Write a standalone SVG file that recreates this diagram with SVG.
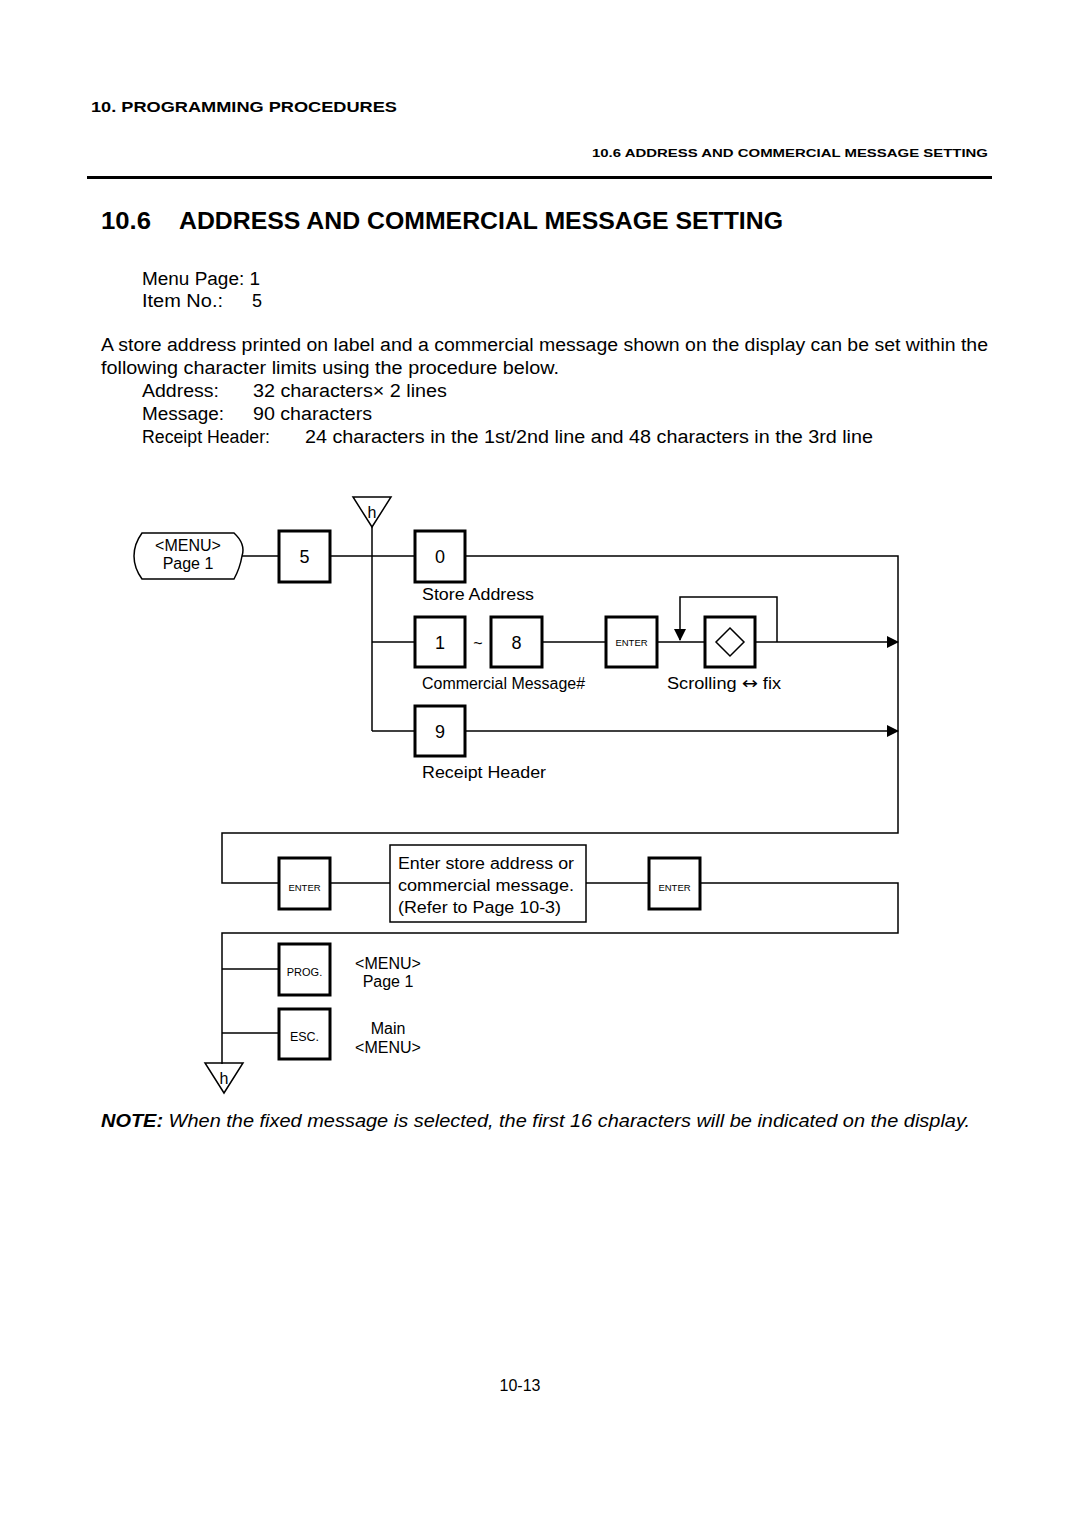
<svg xmlns="http://www.w3.org/2000/svg" width="1080" height="1528" viewBox="0 0 1080 1528">
<style>
text{font-family:"Liberation Sans",Arial,sans-serif;fill:#000}
.body{font-size:18px}
.lbl{font-size:16px}
.dig{font-size:18px;text-anchor:middle}
.key{fill:#fff;stroke:#000;stroke-width:3}
.ln{fill:none;stroke:#000;stroke-width:1.5}
.sm{font-size:9.5px;text-anchor:middle}
</style>
<defs>
<marker id="ar" markerWidth="12" markerHeight="12" refX="11" refY="6" orient="auto" markerUnits="userSpaceOnUse">
<path d="M0,0 L12,6 L0,12 Z" fill="#000"/>
</marker>
</defs>
<rect width="1080" height="1528" fill="#fff"/>
<text x="91" y="112" font-size="14.5" font-weight="bold" textLength="306" lengthAdjust="spacingAndGlyphs">10.  PROGRAMMING PROCEDURES</text>
<text x="988" y="157" font-size="11.5" font-weight="bold" text-anchor="end" textLength="396" lengthAdjust="spacingAndGlyphs">10.6 ADDRESS AND COMMERCIAL MESSAGE SETTING</text>
<rect x="87" y="176" width="905" height="3" fill="#000"/>
<text x="101" y="229" font-size="24" font-weight="bold" textLength="50" lengthAdjust="spacingAndGlyphs">10.6</text>
<text x="179" y="229" font-size="24" font-weight="bold" textLength="604" lengthAdjust="spacingAndGlyphs">ADDRESS AND COMMERCIAL MESSAGE SETTING</text>
<text class="body" x="142" y="285" textLength="118" lengthAdjust="spacingAndGlyphs">Menu Page: 1</text>
<text class="body" x="142" y="307" textLength="81" lengthAdjust="spacingAndGlyphs">Item No.:</text>
<text class="body" x="252" y="307">5</text>
<text class="body" x="101" y="351" textLength="887" lengthAdjust="spacingAndGlyphs">A store address printed on label and a commercial message shown on the display can be set within the</text>
<text class="body" x="101" y="374" textLength="458" lengthAdjust="spacingAndGlyphs">following character limits using the procedure below.</text>
<text class="body" x="142" y="397" textLength="77" lengthAdjust="spacingAndGlyphs">Address:</text>
<text class="body" x="253" y="397" textLength="194" lengthAdjust="spacingAndGlyphs">32 characters× 2 lines</text>
<text class="body" x="142" y="420" textLength="82" lengthAdjust="spacingAndGlyphs">Message:</text>
<text class="body" x="253" y="420" textLength="119" lengthAdjust="spacingAndGlyphs">90 characters</text>
<text class="body" x="142" y="443" textLength="128" lengthAdjust="spacingAndGlyphs">Receipt Header:</text>
<text class="body" x="305" y="443" textLength="568" lengthAdjust="spacingAndGlyphs">24 characters in the 1st/2nd line and 48 characters in the 3rd line</text>

<g id="connectors">
<path class="ln" d="M242,556 H279"/>
<path class="ln" d="M330,556 H415"/>
<path class="ln" d="M372,527 V731"/>
<path class="ln" d="M465,556 H898 V833 H222 V883 H279"/>
<path class="ln" d="M372,642 H415"/>
<path class="ln" d="M542,642 H606"/>
<path class="ln" d="M657,642 H705"/>
<path class="ln" d="M755,642 H898" marker-end="url(#ar)"/>
<path class="ln" d="M777,642 V597 H680 V640" marker-end="url(#ar)"/>
<path class="ln" d="M372,731 H415"/>
<path class="ln" d="M465,731 H898" marker-end="url(#ar)"/>
<path class="ln" d="M330,883 H390"/>
<path class="ln" d="M586,883 H649"/>
<path class="ln" d="M700,883 H898 V933 H222 V1064"/>
<path class="ln" d="M222,969 H279"/>
<path class="ln" d="M222,1033 H279"/>
</g>

<g id="menu-start">
<path class="ln" d="M142,533 H234 Q246,544 242,556 Q240,568 234,579 H142 Q134,568 134,556 Q134,544 142,533 Z"/>
<text class="lbl" x="188" y="551" text-anchor="middle">&lt;MENU&gt;</text>
<text class="lbl" x="188" y="569" text-anchor="middle">Page 1</text>
</g>
<g id="key-5"><rect class="key" x="279" y="531" width="51" height="51"/><text class="dig" x="304.5" y="563">5</text></g>
<g id="top-h"><path class="ln" d="M353,497 H391 L372,527 Z"/><text x="372" y="518" font-size="16" text-anchor="middle">h</text></g>
<g id="key-0"><rect class="key" x="415" y="531" width="50" height="51"/><text class="dig" x="440" y="563">0</text></g>
<text class="lbl" x="422" y="600" textLength="112" lengthAdjust="spacingAndGlyphs">Store Address</text>
<g id="key-1"><rect class="key" x="415" y="617" width="50" height="50"/><text class="dig" x="440" y="649">1</text></g>
<text x="478" y="649" font-size="16" text-anchor="middle">~</text>
<g id="key-8"><rect class="key" x="491" y="617" width="51" height="50"/><text class="dig" x="516.5" y="649">8</text></g>
<g id="key-enter1"><rect class="key" x="606" y="617" width="51" height="50"/><text class="sm" x="631.5" y="646">ENTER</text></g>
<g id="key-diamond"><rect class="key" x="705" y="617" width="50" height="50"/><path d="M730,628 L744,642 L730,656 L716,642 Z" fill="none" stroke="#000" stroke-width="1.5"/></g>
<text class="lbl" x="422" y="689" textLength="163" lengthAdjust="spacingAndGlyphs">Commercial Message#</text>
<text class="lbl" x="667" y="689" textLength="114" lengthAdjust="spacingAndGlyphs">Scrolling <tspan font-family="DejaVu Sans" font-size="17">↔</tspan> fix</text>
<g id="key-9"><rect class="key" x="415" y="706" width="50" height="50"/><text class="dig" x="440" y="738">9</text></g>
<text class="lbl" x="422" y="778" textLength="124" lengthAdjust="spacingAndGlyphs">Receipt Header</text>
<g id="key-enter2"><rect class="key" x="279" y="858" width="51" height="51"/><text class="sm" x="304.5" y="891">ENTER</text></g>
<g id="input-box">
<rect x="390" y="845" width="196" height="77" fill="#fff" stroke="#000" stroke-width="1.5"/>
<text class="lbl" x="398" y="869" textLength="176" lengthAdjust="spacingAndGlyphs">Enter store address or</text>
<text class="lbl" x="398" y="891" textLength="176" lengthAdjust="spacingAndGlyphs">commercial message.</text>
<text class="lbl" x="398" y="913" textLength="163" lengthAdjust="spacingAndGlyphs">(Refer to Page 10-3)</text>
</g>
<g id="key-enter3"><rect class="key" x="649" y="858" width="51" height="51"/><text class="sm" x="674.5" y="891">ENTER</text></g>
<g id="key-prog"><rect class="key" x="279" y="944" width="51" height="51"/><text x="304.5" y="976" font-size="11" text-anchor="middle">PROG.</text></g>
<text class="lbl" x="388" y="969" text-anchor="middle">&lt;MENU&gt;</text>
<text class="lbl" x="388" y="987" text-anchor="middle">Page 1</text>
<g id="key-esc"><rect class="key" x="279" y="1009" width="51" height="50"/><text x="304.5" y="1041" font-size="12.5" text-anchor="middle">ESC.</text></g>
<text class="lbl" x="388" y="1034" text-anchor="middle">Main</text>
<text class="lbl" x="388" y="1053" text-anchor="middle">&lt;MENU&gt;</text>
<g id="bottom-h"><path class="ln" d="M205,1063 H243 L224,1093 Z"/><text x="224" y="1084" font-size="16" text-anchor="middle">h</text></g>

<text x="101" y="1127" font-size="18" font-style="italic" textLength="869" lengthAdjust="spacingAndGlyphs"><tspan font-weight="bold">NOTE:</tspan>  When the fixed message is selected, the first 16 characters will be indicated on the display.</text>
<text x="520" y="1391" font-size="16" text-anchor="middle">10-13</text>
</svg>
